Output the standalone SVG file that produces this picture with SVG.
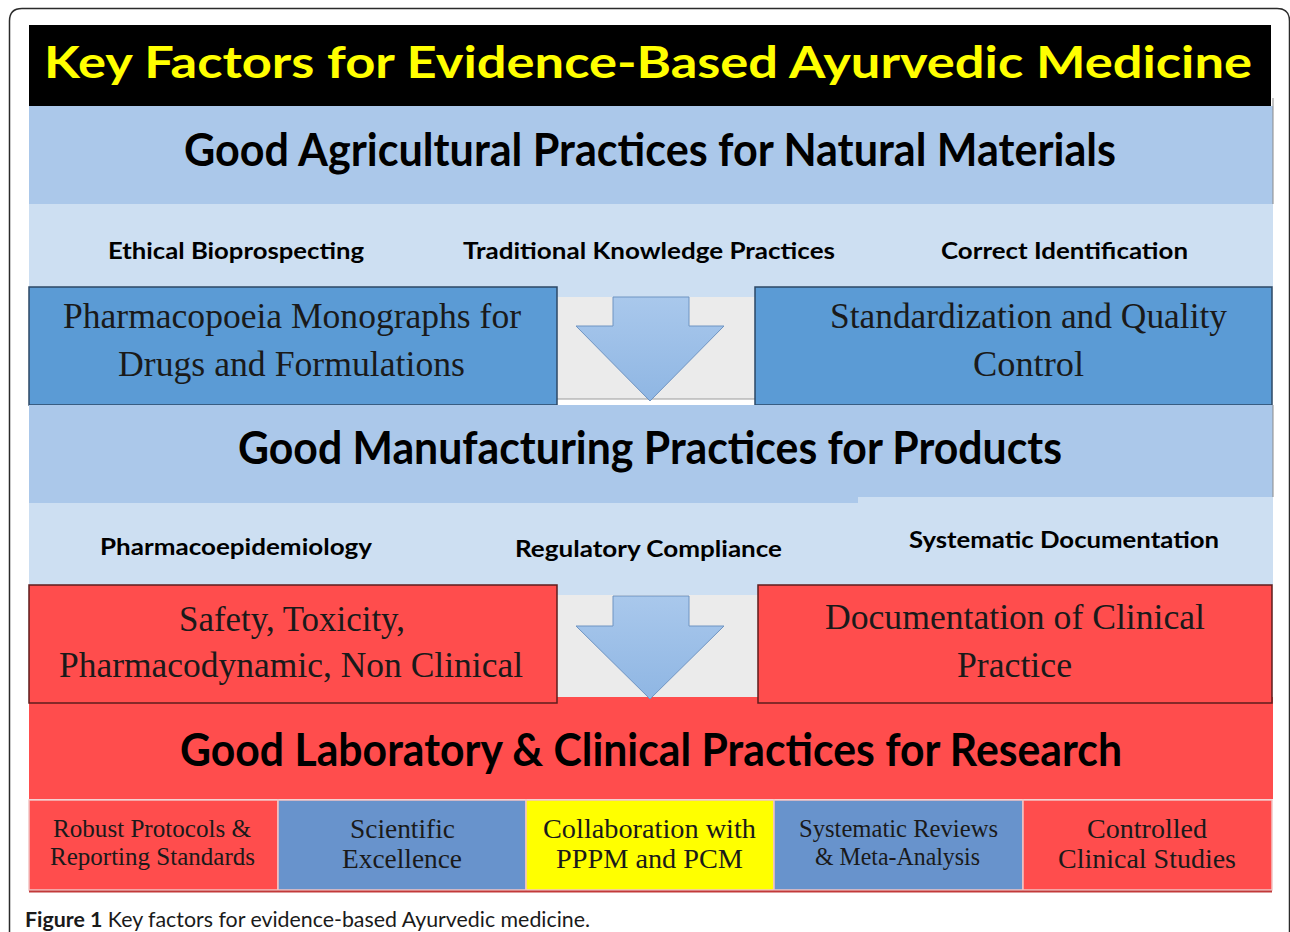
<svg xmlns="http://www.w3.org/2000/svg" width="1290" height="932" viewBox="0 0 1290 932">
  <defs>
    <linearGradient id="arrowFill" x1="0" y1="0" x2="0" y2="1">
      <stop offset="0" stop-color="#a9c8ec"/>
      <stop offset="1" stop-color="#8fb6e3"/>
    </linearGradient>
    <style>
      .sans { font-family: Lato, "Open Sans", "Liberation Sans", sans-serif; font-weight: 700; fill: #000; }
      .serif { font-family: "Liberation Serif", "Times New Roman", serif; fill: #1a1a1a; }
      .title { font-size: 43px; fill: #ffff00; }
      .head { font-size: 46px; }
      .label { font-size: 22px; }
      .boxtxt { font-size: 35px; }
      .celltxt { font-size: 27px; }
      .celltxt-s { font-size: 25px; }
      .band { fill: #abc8ea; }
      .light { fill: #cddff2; }
      .gap { fill: #ebebeb; }
      .bluebox { fill: #5b9bd5; stroke: #2c4866; stroke-width: 1.5; }
      .redbox { fill: #ff4d4d; stroke: #5e1c1c; stroke-width: 1.5; }
      .red { fill: #ff4d4d; }
      .cell { stroke: #f2c4c4; stroke-width: 1.5; }
      .arrow { fill: url(#arrowFill); stroke: #6f94c2; stroke-width: 1; }
    </style>
  </defs>

  <rect width="1290" height="932" fill="#ffffff"/>

  <!-- outer frame, open at the bottom -->
  <path d="M9.5,932 V21 Q9.5,8.5 22,8.5 H1277 Q1289.5,8.5 1289.5,21 V932" fill="none" stroke="#2b2b2b" stroke-width="1.5"/>

  <!-- title bar -->
  <g id="title">
    <rect x="29" y="25" width="1242" height="81" fill="#000"/>
    <text class="sans title" x="648" y="78" text-anchor="middle" textLength="1208" lengthAdjust="spacingAndGlyphs">Key Factors for Evidence-Based Ayurvedic Medicine</text>
  </g>

  <!-- tier 1: agriculture -->
  <g id="gap-band">
    <rect class="band" x="29" y="106" width="1244" height="98"/>
    <line x1="1273" y1="98" x2="1273" y2="204" stroke="#8a8a8a" stroke-width="1"/>
    <text class="sans head" x="650" y="166" text-anchor="middle" textLength="932" lengthAdjust="spacingAndGlyphs">Good Agricultural Practices for Natural Materials</text>
  </g>

  <g id="gap-factors">
    <rect class="light" x="29" y="204" width="1244" height="83"/>
    <rect class="light" x="557" y="287" width="198" height="10"/>
    <text class="sans label" x="236" y="259" text-anchor="middle" textLength="256" lengthAdjust="spacingAndGlyphs">Ethical Bioprospecting</text>
    <text class="sans label" x="649" y="259" text-anchor="middle" textLength="372" lengthAdjust="spacingAndGlyphs">Traditional Knowledge Practices</text>
    <text class="sans label" x="1064.5" y="259" text-anchor="middle" textLength="247" lengthAdjust="spacingAndGlyphs">Correct Identification</text>
  </g>

  <rect class="gap" x="557" y="297" width="198" height="102"/>
  <line x1="557" y1="399" x2="755" y2="399" stroke="#9a9a9a" stroke-width="1"/>

  <g id="pharmacopoeia">
    <rect class="bluebox" x="29" y="287" width="528" height="118"/>
    <text class="serif boxtxt" x="292" y="328" text-anchor="middle" textLength="458" lengthAdjust="spacingAndGlyphs">Pharmacopoeia Monographs for</text>
    <text class="serif boxtxt" x="291.5" y="376" text-anchor="middle" textLength="347" lengthAdjust="spacingAndGlyphs">Drugs and Formulations</text>
  </g>

  <g id="standardization">
    <rect class="bluebox" x="755" y="287" width="517" height="118"/>
    <text class="serif boxtxt" x="1028.5" y="328" text-anchor="middle" textLength="397" lengthAdjust="spacingAndGlyphs">Standardization and Quality</text>
    <text class="serif boxtxt" x="1028.5" y="376" text-anchor="middle" textLength="111" lengthAdjust="spacingAndGlyphs">Control</text>
  </g>

  <!-- tier 2: manufacturing -->
  <g id="gmp-band">
    <rect class="band" x="29" y="405" width="1244" height="98"/>
    <line x1="1273" y1="405" x2="1273" y2="497" stroke="#8a8a8a" stroke-width="1"/>
    <text class="sans head" x="650" y="464" text-anchor="middle" textLength="824" lengthAdjust="spacingAndGlyphs">Good Manufacturing Practices for Products</text>
  </g>

  <g id="gmp-factors">
    <rect class="light" x="29" y="503" width="416" height="82"/>
    <rect class="light" x="444" y="503" width="415" height="92"/>
    <rect class="light" x="858" y="497" width="415" height="88"/>
    <text class="sans label" x="236" y="555" text-anchor="middle" textLength="272" lengthAdjust="spacingAndGlyphs">Pharmacoepidemiology</text>
    <text class="sans label" x="648.5" y="557" text-anchor="middle" textLength="267" lengthAdjust="spacingAndGlyphs">Regulatory Compliance</text>
    <text class="sans label" x="1064" y="548" text-anchor="middle" textLength="310" lengthAdjust="spacingAndGlyphs">Systematic Documentation</text>
  </g>

  <rect class="gap" x="557" y="595" width="201" height="104"/>

  <!-- tier 3: laboratory and clinical -->
  <g id="glcp-band">
    <rect class="red" x="29" y="697" width="1244" height="102"/>
    <text class="sans head" x="651" y="766" text-anchor="middle" textLength="942" lengthAdjust="spacingAndGlyphs">Good Laboratory &amp; Clinical Practices for Research</text>
  </g>

  <g id="safety">
    <rect class="redbox" x="29" y="585" width="528" height="118"/>
    <text class="serif boxtxt" x="292" y="631" text-anchor="middle" textLength="226" lengthAdjust="spacingAndGlyphs">Safety, Toxicity,</text>
    <text class="serif boxtxt" x="291" y="677" text-anchor="middle" textLength="464" lengthAdjust="spacingAndGlyphs">Pharmacodynamic, Non Clinical</text>
  </g>

  <g id="clinical-documentation">
    <rect class="redbox" x="758" y="585" width="514" height="118"/>
    <text class="serif boxtxt" x="1015" y="629" text-anchor="middle" textLength="380" lengthAdjust="spacingAndGlyphs">Documentation of Clinical</text>
    <text class="serif boxtxt" x="1014.5" y="677" text-anchor="middle" textLength="115" lengthAdjust="spacingAndGlyphs">Practice</text>
  </g>

  <!-- downward block arrows between tiers -->
  <g id="connectors">
    <path class="arrow" d="M613,297 H689 V326 H724 L650,401 L576,326 H613 Z"/>
    <path class="arrow" d="M613,596 H689 V626 H724 L650,699 L576,626 H613 Z"/>
  </g>

  <!-- research pillars -->
  <g id="pillar-protocols">
    <rect class="red cell" x="29" y="800" width="249" height="90"/>
    <text class="serif celltxt-s" x="152" y="837" text-anchor="middle" textLength="198" lengthAdjust="spacingAndGlyphs">Robust Protocols &amp;</text>
    <text class="serif celltxt-s" x="152.5" y="865" text-anchor="middle" textLength="205" lengthAdjust="spacingAndGlyphs">Reporting Standards</text>
  </g>
  <g id="pillar-excellence">
    <rect class="cell" x="278" y="800" width="248" height="90" fill="#6893cc"/>
    <text class="serif celltxt" x="402.5" y="838" text-anchor="middle" textLength="105" lengthAdjust="spacingAndGlyphs">Scientific</text>
    <text class="serif celltxt" x="402" y="868" text-anchor="middle" textLength="120" lengthAdjust="spacingAndGlyphs">Excellence</text>
  </g>
  <g id="pillar-collaboration">
    <rect class="cell" x="526" y="800" width="248" height="90" fill="#ffff00"/>
    <text class="serif celltxt" x="649.5" y="838" text-anchor="middle" textLength="213" lengthAdjust="spacingAndGlyphs">Collaboration with</text>
    <text class="serif celltxt" x="649.5" y="868" text-anchor="middle" textLength="187" lengthAdjust="spacingAndGlyphs">PPPM and PCM</text>
  </g>
  <g id="pillar-reviews">
    <rect class="cell" x="774" y="800" width="249" height="90" fill="#6893cc"/>
    <text class="serif celltxt-s" x="898.5" y="837" text-anchor="middle" textLength="199" lengthAdjust="spacingAndGlyphs">Systematic Reviews</text>
    <text class="serif celltxt-s" x="897.5" y="865" text-anchor="middle" textLength="165" lengthAdjust="spacingAndGlyphs">&amp; Meta-Analysis</text>
  </g>
  <g id="pillar-trials">
    <rect class="red cell" x="1023" y="800" width="249" height="90"/>
    <text class="serif celltxt" x="1147" y="838" text-anchor="middle" textLength="120" lengthAdjust="spacingAndGlyphs">Controlled</text>
    <text class="serif celltxt" x="1147" y="868" text-anchor="middle" textLength="178" lengthAdjust="spacingAndGlyphs">Clinical Studies</text>
  </g>
  <line x1="29" y1="891.5" x2="1272" y2="891.5" stroke="#c23a3a" stroke-width="2"/>

  <!-- caption -->
  <text x="25" y="927" font-family="Lato, 'Open Sans', 'Liberation Sans', sans-serif" font-size="21" fill="#1a1a1a" textLength="565" lengthAdjust="spacingAndGlyphs"><tspan font-weight="700">Figure 1</tspan> Key factors for evidence-based Ayurvedic medicine.</text>
</svg>
